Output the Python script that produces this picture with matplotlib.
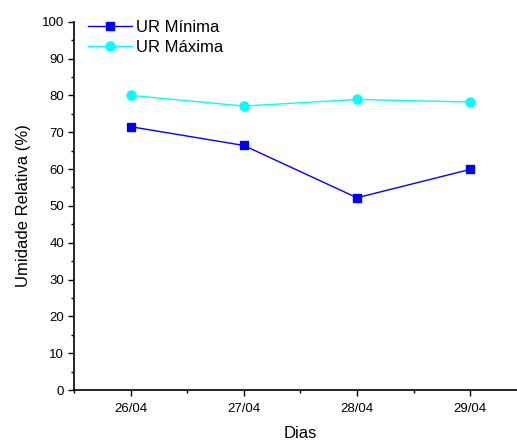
import matplotlib
matplotlib.use("Agg")
import matplotlib.pyplot as plt
from matplotlib.ticker import MultipleLocator

days = ["26/04", "27/04", "28/04", "29/04"]
ur_min = [71.5, 66.4, 52.2, 59.9]
ur_max = [80.0, 77.1, 78.9, 78.2]
y_ticks = [0, 10, 20, 30, 40, 50, 60, 70, 80, 90, 100]

plt.rcParams["font.family"] = ["Liberation Sans", "DejaVu Sans"]

fig = plt.figure(figsize=(5.17, 4.42), dpi=100)
ax = fig.add_axes([0.1431, 0.1176, 0.8758, 0.8333])

x = list(range(1, len(days) + 1))
ax.plot(x, ur_min, color="#0000ff", lw=1.0, marker="s", ms=5.5, label="UR Mínima")
ax.plot(x, ur_max, color="#00ffff", lw=1.0, marker="o", ms=6.5, label="UR Máxima")

ax.set_xlim(0.5, 4.5)
ax.set_ylim(0, 100)
ax.set_xticks(x)
ax.set_xticklabels(days)
ax.set_yticks(y_ticks)
ax.xaxis.set_minor_locator(MultipleLocator(0.5))
ax.yaxis.set_minor_locator(MultipleLocator(5))
ax.tick_params(which="major", direction="out", length=4.5, width=1, labelsize=9.5, pad=2.5)
ax.tick_params(which="minor", direction="out", length=2.2, width=1)
ax.tick_params(axis="x", which="major", pad=5)

for s in ["top", "right"]:
    ax.spines[s].set_visible(False)
for s in ["left", "bottom"]:
    ax.spines[s].set_linewidth(1.2)

ax.set_xlabel("Dias", fontsize=12, labelpad=7.5)
ax.set_ylabel("Umidade Relativa (%)", fontsize=12, labelpad=8)

ax.legend(loc="upper left", bbox_to_anchor=(0.158, 0.97), bbox_transform=fig.transFigure,
          frameon=False, fontsize=12, handlelength=2.6, handletextpad=0.25,
          labelspacing=0.3, borderaxespad=0)

fig.savefig("out.png", dpi=100)
